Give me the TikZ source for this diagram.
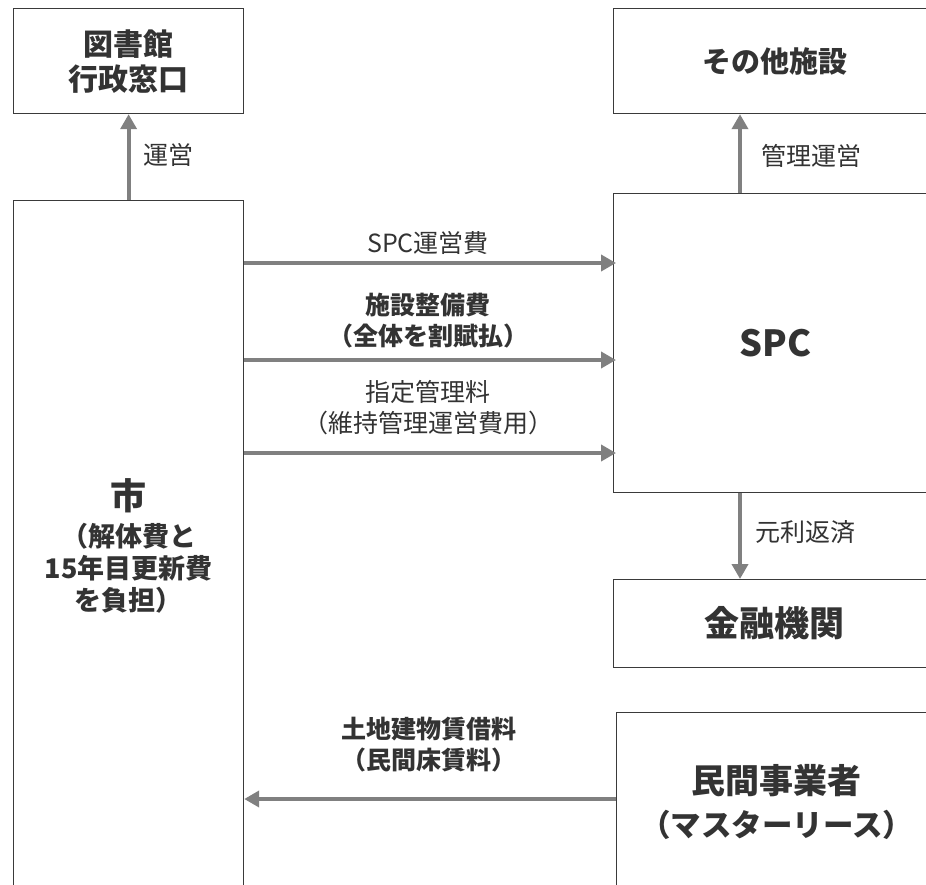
\documentclass[tikz,border=0pt]{standalone}
\usepackage{fontspec}
\setmainfont{Noto Sans CJK JP}
\usetikzlibrary{arrows.meta}
\definecolor{txt}{HTML}{333333}
\definecolor{edge}{HTML}{3A3A3A}
\definecolor{arrg}{HTML}{808080}
\tikzset{
  box/.style={draw=edge, line width=1.2pt, fill=white, text=txt, align=center, inner sep=0pt, anchor=north west},
  arr/.style={draw=arrg, line width=4pt, -{Triangle[length=15pt,width=16pt]}},
  lbl/.style={text=txt, align=center, inner sep=0pt, font=\fontsize{25}{31}\selectfont},
  blbl/.style={lbl, font=\bfseries\fontsize{25}{31}\selectfont},
}
\begin{document}
\begin{tikzpicture}[x=1pt,y=-1pt]
\useasboundingbox (0,0) rectangle (926,885);
\clip (0,0) rectangle (926,885);
\fill[white] (0,0) rectangle (926,885);

% boxes
\node[box, minimum width=230pt, minimum height=105pt, font=\bfseries\fontsize{30}{35}\selectfont] (tosho) at (13,8) {図書館\\行政窓口};
\node[box, minimum width=322pt, minimum height=105pt, font=\bfseries\fontsize{29}{35}\selectfont] (sonota) at (613,8) {その他施設};
\node[box, minimum width=230pt, minimum height=690pt, font=\bfseries\fontsize{27}{32}\selectfont] (shi) at (13,200) {{\fontsize{36}{43}\selectfont 市}\\[5pt]（解体費と\\15年目更新費\\を負担）};
\node[box, minimum width=324pt, minimum height=299pt, font=\bfseries\fontsize{36}{43}\selectfont] (spc) at (613,193) {SPC};
\node[box, minimum width=322pt, minimum height=88pt, font=\bfseries\fontsize{35}{42}\selectfont] (kinyu) at (613,579) {金融機関};
\node[box, minimum width=320pt, minimum height=179pt, font=\bfseries\fontsize{34}{43}\selectfont] (minkan) at (616,712) {民間事業者\\{\fontsize{30.5}{43}\selectfont （マスターリース）}};

% arrow levels
\coordinate (y1) at (0,263);
\coordinate (y2) at (0,360);
\coordinate (y3) at (0,453);
\coordinate (y4) at (0,799);

% connectors
\draw[arr] (shi.north) -- (tosho.south);
\draw[arr] ([xshift=127pt]spc.north west) -- ([xshift=127pt]sonota.south west);
\draw[arr] ([xshift=127pt]spc.south west) -- ([xshift=127pt]kinyu.north west);
\draw[arr] (shi.east |- y1) -- ([xshift=3pt]spc.west |- y1);
\draw[arr] (shi.east |- y2) -- ([xshift=3pt]spc.west |- y2);
\draw[arr] (shi.east |- y3) -- ([xshift=3pt]spc.west |- y3);
\draw[arr] (minkan.west |- y4) -- (shi.east |- y4);

% labels
\node[lbl] (l1) at (168,155) {運営};
\node[lbl] (l2) at (811,156) {管理運営};
\node[lbl] (l3) at (428,243) {SPC運営費};
\node[blbl] (l4) at (428,321) {施設整備費\\（全体を割賦払）};
\node[lbl] (l5) at (428,408) {指定管理料\\（維持管理運営費用）};
\node[lbl] (l6) at (805,532) {元利返済};
\node[blbl] (l7) at (429,745) {土地建物賃借料\\（民間床賃料）};
\end{tikzpicture}
\end{document}
